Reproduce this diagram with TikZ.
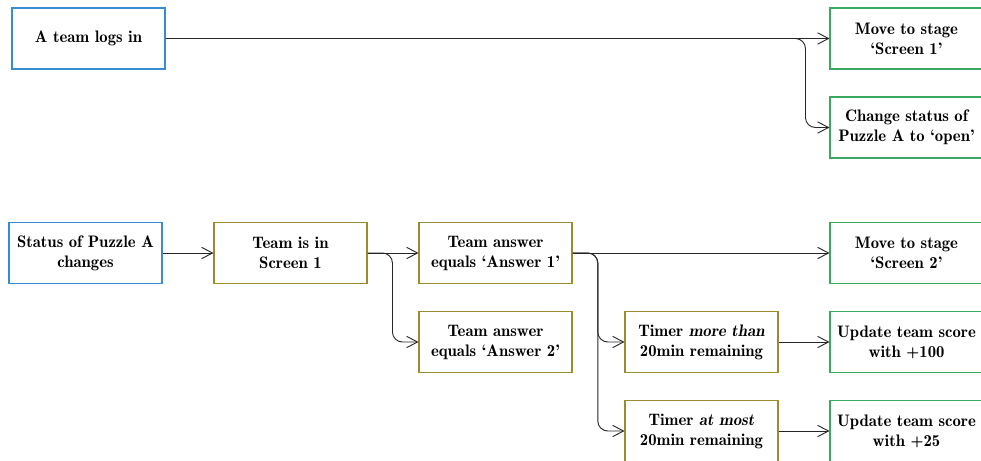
\documentclass[tikz,border=0pt]{standalone}
\usetikzlibrary{arrows.meta}
\definecolor{trigblue}{HTML}{3A8CD2}
\definecolor{condolive}{HTML}{9C8C2E}
\definecolor{actgreen}{HTML}{3AA85E}
\tikzset{
  box/.style={draw, line width=0.65pt, minimum width=91.8pt, minimum height=36.6pt,
    align=center, font=\fontseries{b}\selectfont, inner sep=2pt, fill=white},
  trigger/.style={box, draw=trigblue},
  cond/.style={box, draw=condolive},
  action/.style={box, draw=actgreen},
  arr/.style={-{Straight Barb[length=6.5pt,width=6.8pt]}, line width=0.55pt, black!85},
  branch/.style={arr, rounded corners=6pt},
}
\begin{document}
\begin{tikzpicture}[x=0.6pt,y=-0.6pt]
\path[use as bounding box, clip] (0,0) rectangle (981,461);

% Rule 1: login
\node[trigger] (login) at (88.5,38.5) {A team logs in};
\node[action]  (stage1) at (906.5,38.5) {Move to stage\\`Screen 1'};
\node[action]  (open)   at (906.5,127.5) {Change status of\\Puzzle A to `open'};

\draw[arr] (login.east) -- (stage1.west);
\draw[branch] (login.east) -| ([xshift=-14.4pt]open.west) -- (open.west);

% Rule 2: puzzle A status change
\node[trigger] (status) at (85.5,253) {Status of Puzzle A\\changes};
\node[cond]    (screen) at (290.5,253) {Team is in\\Screen 1};
\node[cond]    (ans1)   at (495.5,253) {Team answer\\equals `Answer 1'};
\node[cond]    (ans2)   at (495.5,342) {Team answer\\equals `Answer 2'};
\node[action]  (stage2) at (906.5,253) {Move to stage\\`Screen 2'};
\node[cond]    (more)   at (701.5,342) {Timer \textit{more than}\\20min remaining};
\node[action]  (score1) at (906.5,342) {Update team score\\with +100};
\node[cond]    (most)   at (701.5,431) {Timer \textit{at most}\\20min remaining};
\node[action]  (score2) at (906.5,431) {Update team score\\with +25};

\draw[arr] (status.east) -- (screen.west);
\draw[arr] (screen.east) -- (ans1.west);
\draw[branch] (screen.east) -| ([xshift=-15.6pt]ans2.west) -- (ans2.west);
\draw[arr] (ans1.east) -- (stage2.west);
\draw[branch] (ans1.east) -| ([xshift=-16pt]more.west) -- (more.west);
\draw[branch] (ans1.east) -| ([xshift=-16pt]most.west) -- (most.west);
\draw[arr] (more.east) -- (score1.west);
\draw[arr] (most.east) -- (score2.west);
\end{tikzpicture}
\end{document}
